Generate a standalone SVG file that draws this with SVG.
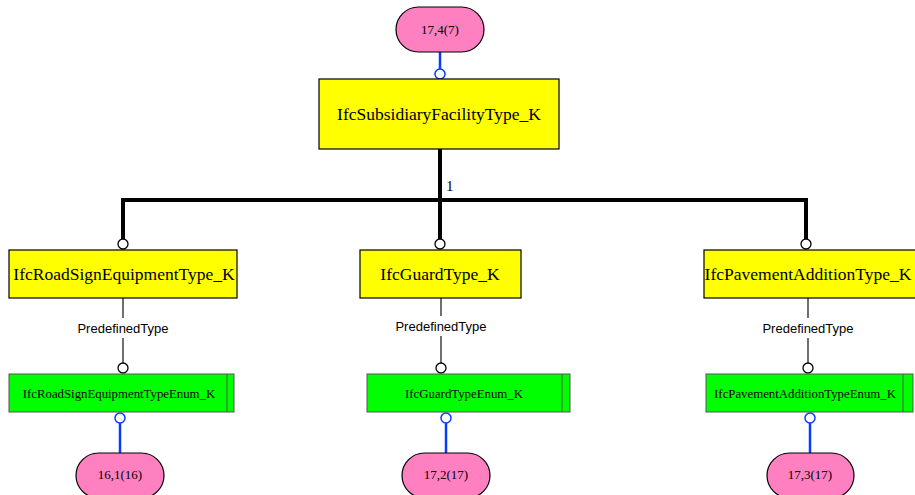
<svg xmlns="http://www.w3.org/2000/svg" width="915" height="495" viewBox="0 0 915 495">
  <style>
    .entity { fill: #ffff00; stroke: #000; stroke-width: 1.2; }
    .enum { fill: #00ff00; stroke: #555; stroke-width: 1; }
    .ref { fill: #ff80c0; stroke: #000; stroke-width: 1.2; }
    .ename { font-family: "Liberation Serif", "Times New Roman", serif; font-size: 17.5px; fill: #000; text-anchor: middle; }
    .enname { font-family: "Liberation Serif", "Times New Roman", serif; font-size: 12.8px; fill: #000; text-anchor: middle; }
    .refname { font-family: "Liberation Serif", "Times New Roman", serif; font-size: 13px; fill: #000; text-anchor: middle; }
    .attr { font-family: "Liberation Sans", Arial, sans-serif; font-size: 13px; fill: #000; text-anchor: middle; }
    .card { font-family: "Liberation Serif", "Times New Roman", serif; font-size: 15px; fill: #000; }
    .thick { fill: none; stroke: #000; stroke-width: 4; }
    .thin { fill: none; stroke: #222; stroke-width: 1.3; }
    .blue { fill: none; stroke: #0a3cff; stroke-width: 2.5; }
    .end { fill: #fff; stroke: #000; stroke-width: 1.3; }
    .bend { fill: #fff; stroke: #0a3cff; stroke-width: 1.5; }
  </style>

  <!-- connectors -->
  <g id="connectors">
    <!-- page reference to supertype -->
    <line class="blue" x1="440" y1="52" x2="440" y2="69"/>
    <circle class="bend" cx="440" cy="74" r="5"/>

    <!-- subtype tree (ONEOF) -->
    <line class="thick" x1="440" y1="149" x2="440" y2="239"/>
    <polyline class="thick" points="123,239 123,200 806,200 806,239"/>
    <text class="card" x="446" y="191">1</text>
    <circle class="end" cx="123" cy="244" r="5"/>
    <circle class="end" cx="440" cy="244" r="5"/>
    <circle class="end" cx="806" cy="244" r="5"/>

    <!-- PredefinedType attributes -->
    <line class="thin" x1="123" y1="298" x2="123" y2="318"/>
    <line class="thin" x1="123" y1="338" x2="123" y2="364"/>
    <text class="attr" x="123" y="333">PredefinedType</text>
    <circle class="end" cx="123" cy="368" r="5"/>

    <line class="thin" x1="441" y1="298" x2="441" y2="316"/>
    <line class="thin" x1="441" y1="336" x2="441" y2="364"/>
    <text class="attr" x="441" y="331">PredefinedType</text>
    <circle class="end" cx="441" cy="368" r="5"/>

    <line class="thin" x1="808" y1="298" x2="808" y2="318"/>
    <line class="thin" x1="808" y1="338" x2="808" y2="364"/>
    <text class="attr" x="808" y="333">PredefinedType</text>
    <circle class="end" cx="808" cy="368" r="5"/>

    <!-- page references from enumerations -->
    <circle class="bend" cx="120" cy="418" r="5"/>
    <line class="blue" x1="120" y1="423" x2="120" y2="453"/>
    <circle class="bend" cx="446" cy="418" r="5"/>
    <line class="blue" x1="446" y1="423" x2="446" y2="453"/>
    <circle class="bend" cx="810" cy="418" r="5"/>
    <line class="blue" x1="810" y1="423" x2="810" y2="453"/>
  </g>

  <!-- page reference 17,4(7) -->
  <g id="ref-17-4">
    <rect class="ref" x="396" y="7" width="88" height="45" rx="22.5"/>
    <text class="refname" x="440" y="34">17,4(7)</text>
  </g>

  <!-- IfcSubsidiaryFacilityType_K -->
  <g id="IfcSubsidiaryFacilityType_K">
    <rect class="entity" x="319" y="79" width="240" height="70"/>
    <text class="ename" x="439" y="120">IfcSubsidiaryFacilityType_K</text>
  </g>

  <!-- IfcRoadSignEquipmentType_K -->
  <g id="IfcRoadSignEquipmentType_K">
    <rect class="entity" x="9" y="250" width="228" height="48"/>
    <text class="ename" x="124" y="280">IfcRoadSignEquipmentType_K</text>
  </g>

  <!-- IfcGuardType_K -->
  <g id="IfcGuardType_K">
    <rect class="entity" x="360" y="250" width="161" height="48"/>
    <text class="ename" x="440" y="280">IfcGuardType_K</text>
  </g>

  <!-- IfcPavementAdditionType_K -->
  <g id="IfcPavementAdditionType_K">
    <rect class="entity" x="704" y="250" width="216" height="48"/>
    <text class="ename" x="808" y="280">IfcPavementAdditionType_K</text>
  </g>

  <!-- IfcRoadSignEquipmentTypeEnum_K -->
  <g id="IfcRoadSignEquipmentTypeEnum_K">
    <rect class="enum" x="9" y="374" width="225" height="38"/>
    <line class="enum" x1="227" y1="374" x2="227" y2="412"/>
    <text class="enname" x="119" y="398">IfcRoadSignEquipmentTypeEnum_K</text>
  </g>

  <!-- IfcGuardTypeEnum_K -->
  <g id="IfcGuardTypeEnum_K">
    <rect class="enum" x="367" y="374" width="203" height="38"/>
    <line class="enum" x1="562" y1="374" x2="562" y2="412"/>
    <text class="enname" x="464" y="398">IfcGuardTypeEnum_K</text>
  </g>

  <!-- IfcPavementAdditionTypeEnum_K -->
  <g id="IfcPavementAdditionTypeEnum_K">
    <rect class="enum" x="706" y="374" width="207" height="38"/>
    <line class="enum" x1="903" y1="374" x2="903" y2="412"/>
    <text class="enname" x="805" y="398">IfcPavementAdditionTypeEnum_K</text>
  </g>

  <!-- page references to enumerations -->
  <g id="ref-16-1">
    <rect class="ref" x="76" y="453" width="88" height="45" rx="22.5"/>
    <text class="refname" x="120" y="479">16,1(16)</text>
  </g>
  <g id="ref-17-2">
    <rect class="ref" x="402" y="453" width="88" height="45" rx="22.5"/>
    <text class="refname" x="446" y="479">17,2(17)</text>
  </g>
  <g id="ref-17-3">
    <rect class="ref" x="767" y="453" width="87" height="45" rx="22.5"/>
    <text class="refname" x="810" y="479">17,3(17)</text>
  </g>
</svg>
